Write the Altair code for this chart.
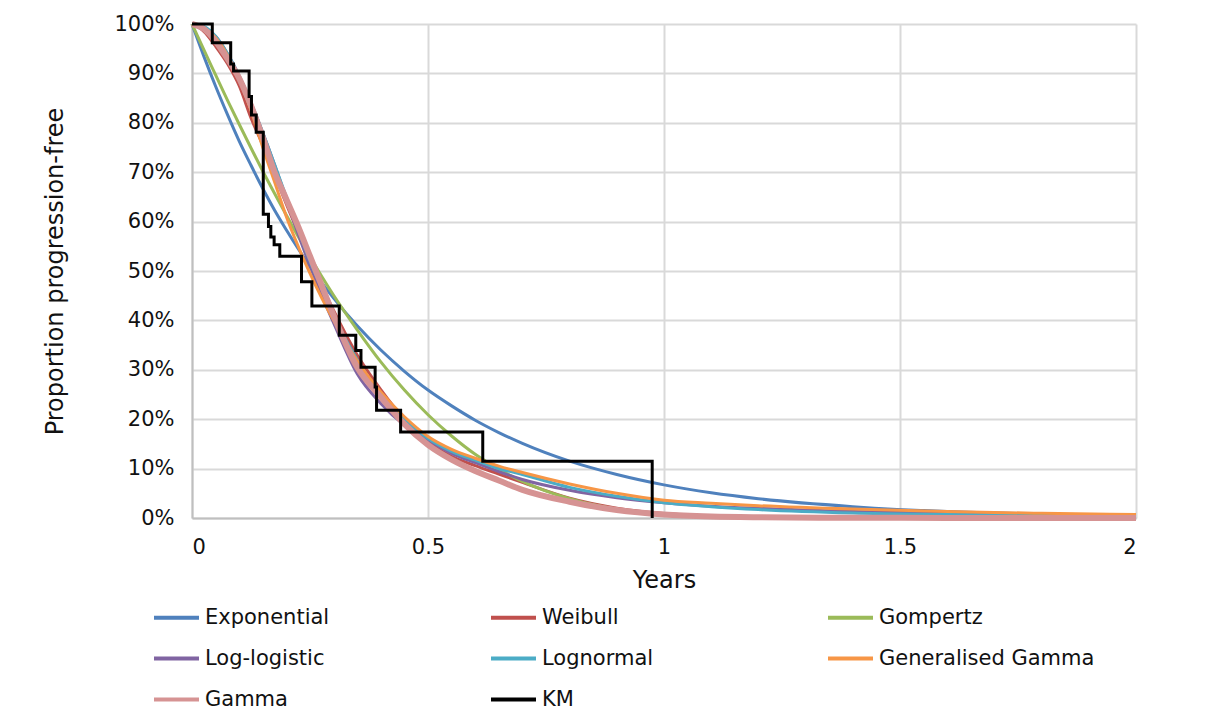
import altair as alt
import pandas as pd

# time grid (years) used to read the fitted curves
times = [0, 0.025, 0.05, 0.075, 0.1, 0.125, 0.15, 0.175, 0.2, 0.225, 0.25, 0.275, 0.3,
         0.35, 0.4, 0.45, 0.5, 0.55, 0.6, 0.65, 0.7, 0.8, 0.9, 1.0, 1.1, 1.2, 1.4, 1.6, 1.8, 2.0]

exponential = [1.000, 0.935, 0.874, 0.817, 0.763, 0.714, 0.667, 0.623, 0.583, 0.545, 0.509, 0.476, 0.445,
               0.389, 0.340, 0.297, 0.259, 0.227, 0.198, 0.173, 0.151, 0.115, 0.088, 0.067, 0.051, 0.039,
               0.023, 0.013, 0.008, 0.0045]
weibull = [1.0, 0.985, 0.955, 0.92, 0.875, 0.81, 0.755, 0.695, 0.635, 0.578, 0.52, 0.47, 0.42,
           0.33, 0.26, 0.20, 0.154, 0.125, 0.106, 0.089, 0.072, 0.040, 0.020, 0.009, 0.004, 0.0017,
           0.0003, 0.0, 0.0, 0.0]
gompertz = [1.0, 0.948, 0.897, 0.846, 0.797, 0.749, 0.702, 0.657, 0.613, 0.570, 0.529, 0.489, 0.451,
            0.381, 0.316, 0.259, 0.209, 0.166, 0.129, 0.099, 0.074, 0.039, 0.018, 0.0077, 0.0028, 0.0009,
            0.0001, 0.0, 0.0, 0.0]
loglogistic = [1.0, 0.993, 0.975, 0.94, 0.895, 0.84, 0.78, 0.715, 0.645, 0.575, 0.51, 0.45, 0.395,
               0.292, 0.232, 0.188, 0.158, 0.131, 0.112, 0.094, 0.078, 0.056, 0.041, 0.031, 0.024, 0.0195,
               0.0133, 0.0094, 0.0070, 0.0054]
lognormal = [1.0, 0.995, 0.975, 0.94, 0.895, 0.84, 0.78, 0.715, 0.65, 0.585, 0.52, 0.465, 0.41,
             0.32, 0.25, 0.20, 0.161, 0.135, 0.117, 0.100, 0.088, 0.062, 0.044, 0.031, 0.023, 0.017,
             0.010, 0.007, 0.005, 0.004]
gengamma = [1.0, 0.993, 0.972, 0.937, 0.888, 0.825, 0.75, 0.68, 0.61, 0.55, 0.495, 0.445, 0.40,
            0.318, 0.255, 0.205, 0.165, 0.139, 0.121, 0.105, 0.092, 0.069, 0.050, 0.036, 0.030, 0.025,
            0.018, 0.013, 0.0095, 0.007]
gamma = [1.0, 0.99, 0.965, 0.93, 0.89, 0.835, 0.77, 0.70, 0.645, 0.59, 0.53, 0.47, 0.41,
         0.305, 0.245, 0.19, 0.148, 0.118, 0.095, 0.076, 0.057, 0.033, 0.016, 0.007, 0.003, 0.0015,
         0.0005, 0.0002, 0.0001, 0.0]

# Kaplan-Meier steps
km_t = [0, 0.043, 0.082, 0.088, 0.121, 0.126, 0.136, 0.151, 0.162, 0.167, 0.174, 0.186, 0.232,
        0.254, 0.312, 0.347, 0.358, 0.388, 0.391, 0.442, 0.616, 0.975]
km_s = [1.0, 0.962, 0.919, 0.905, 0.853, 0.816, 0.781, 0.615, 0.59, 0.569, 0.553, 0.53, 0.478,
        0.429, 0.37, 0.339, 0.305, 0.265, 0.218, 0.174, 0.115, 0.0]

series_names = ["Exponential", "Weibull", "Gompertz", "Log-logistic", "Lognormal",
                "Generalised Gamma", "Gamma", "KM"]
colors = ["#4F81BD", "#C0504D", "#9BBB59", "#8064A2", "#4BACC6", "#F79646", "#D69393", "#000000"]

rows = []
for name, vals in [("Exponential", exponential), ("Weibull", weibull), ("Gompertz", gompertz),
                   ("Log-logistic", loglogistic), ("Lognormal", lognormal),
                   ("Generalised Gamma", gengamma)]:
    for t, s in zip(times, vals):
        rows.append({"t": t, "S": s, "series": name})
curves_df = pd.DataFrame(rows)
gamma_df = pd.DataFrame({"t": times, "S": gamma, "series": "Gamma"})
km_df = pd.DataFrame({"t": km_t, "S": km_s, "series": "KM"})

FONT = "DejaVu Sans"

x_axis = alt.Axis(values=[0, 0.5, 1, 1.5, 2], format=".1~f", grid=True, gridColor="#D9D9D9",
                  gridWidth=2, domainColor="#BFBFBF", domainWidth=2, ticks=False,
                  labelFontSize=21, labelPadding=18, labelColor="#111", labelFont=FONT,
                  title="Years", titleFontSize=24, titleFontWeight="normal", titleColor="#111",
                  titleFont=FONT, titleX=472, titleY=62, titleBaseline="middle")
y_axis = alt.Axis(values=[0, 0.1, 0.2, 0.3, 0.4, 0.5, 0.6, 0.7, 0.8, 0.9, 1.0], format=".0%",
                  grid=True, gridColor="#D9D9D9", gridWidth=2, domainColor="#BFBFBF", domainWidth=2,
                  ticks=False, labelFontSize=21, labelPadding=18, labelColor="#111", labelFont=FONT,
                  title="Proportion progression-free", titleFontSize=24, titleFontWeight="normal",
                  titleColor="#111", titleFont=FONT, titleX=-137, titleY=247, titleAngle=270,
                  titleBaseline="middle", titleAlign="center")

x = alt.X("t:Q", scale=alt.Scale(domain=[0, 2], nice=False), axis=x_axis)
y = alt.Y("S:Q", scale=alt.Scale(domain=[0, 1], nice=False), axis=y_axis)
color = alt.Color("series:N", scale=alt.Scale(domain=series_names, range=colors),
                  legend=alt.Legend(orient="none", legendX=-40, legendY=569, columns=3,
                                    direction="horizontal",
                                    symbolType="stroke", symbolSize=2025, symbolStrokeWidth=4,
                                    labelFontSize=21, labelFont=FONT, labelColor="#111", title=None,
                                    labelLimit=400,
                                    gridAlign="all", columnPadding=62, rowPadding=6, labelOffset=4))

lines = alt.Chart(curves_df).mark_line(strokeWidth=3, interpolate="monotone").encode(x=x, y=y, color=color)
gamma_line = alt.Chart(gamma_df).mark_line(strokeWidth=6, interpolate="monotone").encode(x=x, y=y, color=color)
km_line = alt.Chart(km_df).mark_line(strokeWidth=3, interpolate="step-after").encode(x=x, y=y, color=color)

chart = alt.layer(lines, gamma_line, km_line).properties(
    width=944, height=494,
    padding={"left": 184, "top": 16, "right": 60, "bottom": 198},
    autosize=alt.AutoSizeParams(type="none"),
).configure(font=FONT).configure_view(stroke=None)

chart.save("out.html", embed_options={"renderer": "svg", "actions": False})
